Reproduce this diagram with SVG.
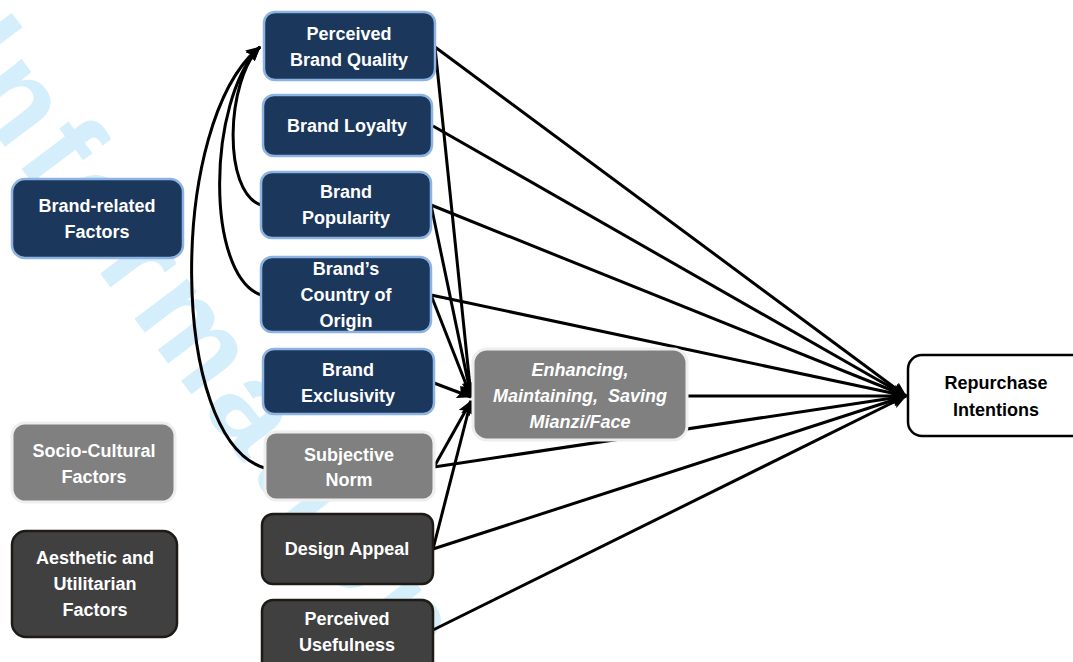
<svg xmlns="http://www.w3.org/2000/svg" width="1073" height="662" viewBox="0 0 1073 662">
<defs>
<style>
.navy{fill:#1b375c;stroke:#8db3e2;stroke-width:2.5}
.grey{fill:#808080;stroke:#eeeeee;stroke-width:3}
.dark{fill:#404040;stroke:#1e1b16;stroke-width:2.5}
.white{fill:#ffffff;stroke:#000000;stroke-width:2.5}
.t{font-family:"Liberation Sans",Arial,sans-serif;font-weight:bold;font-size:18px;fill:#ffffff;text-anchor:middle}
.ti{font-style:italic}
.tb{fill:#000000}
.c{fill:none;stroke:#000000;stroke-width:3}
.wm{font-family:"Liberation Sans",Arial,sans-serif;font-weight:bold;font-size:125px;letter-spacing:8px;fill:#d4effb}
</style>
<marker id="ah" markerUnits="userSpaceOnUse" markerWidth="15" markerHeight="13" refX="14" refY="6.5" orient="auto">
<path d="M0,0 L15,6.5 L0,13 L3,6.5 Z" fill="#000000"/>
</marker>
</defs>
<rect width="1073" height="662" fill="#ffffff"/>
<g id="watermark">
<text class="wm" transform="translate(-62,58) rotate(53)">Information</text>
</g>
<g id="connectors">
<path class="c" d="M261,205 C222,192 226,80 260,47" marker-end="url(#ah)"/>
<path class="c" d="M261,295 C205,275 207,100 260,47" marker-end="url(#ah)"/>
<path class="c" d="M265,468 C168,440 168,120 260,47" marker-end="url(#ah)"/>
<line class="c" x1="435" y1="47" x2="906" y2="396" marker-end="url(#ah)"/>
<line class="c" x1="433" y1="126" x2="906" y2="396" marker-end="url(#ah)"/>
<line class="c" x1="431" y1="205" x2="906" y2="396" marker-end="url(#ah)"/>
<line class="c" x1="431" y1="295" x2="906" y2="396" marker-end="url(#ah)"/>
<line class="c" x1="687" y1="396" x2="906" y2="396" marker-end="url(#ah)"/>
<line class="c" x1="434" y1="467" x2="906" y2="396" marker-end="url(#ah)"/>
<line class="c" x1="433" y1="549" x2="906" y2="396" marker-end="url(#ah)"/>
<line class="c" x1="433" y1="630" x2="906" y2="396" marker-end="url(#ah)"/>
<line class="c" x1="435" y1="47" x2="471" y2="396" marker-end="url(#ah)"/>
<line class="c" x1="431" y1="205" x2="471" y2="396" marker-end="url(#ah)"/>
<line class="c" x1="431" y1="295" x2="471" y2="397" marker-end="url(#ah)"/>
<line class="c" x1="434" y1="383" x2="471" y2="397" marker-end="url(#ah)"/>
<line class="c" x1="434" y1="467" x2="471" y2="401" marker-end="url(#ah)"/>
<line class="c" x1="433" y1="549" x2="471" y2="401" marker-end="url(#ah)"/>
</g>
<g id="brand-related"><rect class="navy" x="12" y="179" width="171" height="79" rx="13"/><text class="t" x="97" y="212">Brand-related</text><text class="t" x="97" y="238">Factors</text></g>
<g id="socio-cultural"><rect class="grey" x="12" y="423" width="163" height="79" rx="13"/><text class="t" x="94" y="457">Socio-Cultural</text><text class="t" x="94" y="483">Factors</text></g>
<g id="aesthetic"><rect class="dark" x="12" y="531" width="165" height="106" rx="14"/><text class="t" x="95" y="564">Aesthetic and</text><text class="t" x="95" y="590">Utilitarian</text><text class="t" x="95" y="616">Factors</text></g>
<g id="pbq"><rect class="navy" x="264" y="12" width="171" height="68" rx="11"/><text class="t" x="349" y="40">Perceived</text><text class="t" x="349" y="66">Brand Quality</text></g>
<g id="loyalty"><rect class="navy" x="263" y="95" width="169" height="61" rx="11"/><text class="t" x="347" y="132">Brand Loyalty</text></g>
<g id="popularity"><rect class="navy" x="261" y="172" width="170" height="66" rx="11"/><text class="t" x="346" y="198">Brand</text><text class="t" x="346" y="224">Popularity</text></g>
<g id="origin"><rect class="navy" x="261" y="257" width="170" height="75" rx="11"/><text class="t" x="346" y="275">Brand’s</text><text class="t" x="346" y="301">Country of</text><text class="t" x="346" y="327">Origin</text></g>
<g id="exclusivity"><rect class="navy" x="263" y="349" width="171" height="65" rx="11"/><text class="t" x="348" y="376">Brand</text><text class="t" x="348" y="402">Exclusivity</text></g>
<g id="norm"><rect class="grey" x="265" y="432" width="169" height="68" rx="11"/><text class="t" x="349" y="461">Subjective</text><text class="t" x="349" y="486">Norm</text></g>
<g id="design"><rect class="dark" x="262" y="514" width="171" height="70" rx="11"/><text class="t" x="347" y="555">Design Appeal</text></g>
<g id="usefulness"><rect class="dark" x="262" y="600" width="171" height="72" rx="11"/><text class="t" x="347" y="625">Perceived</text><text class="t" x="347" y="651">Usefulness</text></g>
<g id="mianzi"><rect class="grey" x="473" y="349" width="214" height="91" rx="14"/><text class="t ti" x="580" y="376">Enhancing,</text><text class="t ti" x="580" y="402" word-spacing="5">Maintaining, Saving</text><text class="t ti" x="580" y="428">Mianzi/Face</text></g>
<g id="repurchase"><rect class="white" x="908" y="355" width="180" height="81" rx="14"/><text class="t tb" x="996" y="389">Repurchase</text><text class="t tb" x="996" y="416">Intentions</text></g>
</svg>
